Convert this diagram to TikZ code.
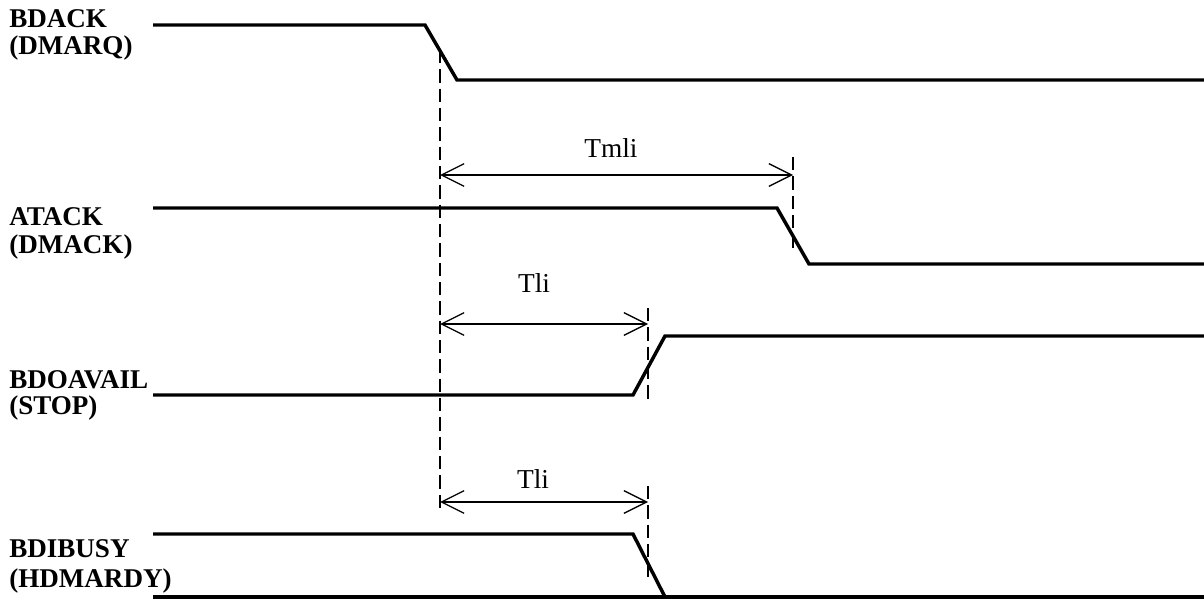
\documentclass[tikz,border=0pt]{standalone}
\usepackage{fontspec}
\setmainfont{Liberation Serif}
\usetikzlibrary{arrows.meta}
\begin{document}
\begin{tikzpicture}[x=0.75pt,y=-0.75pt,
  sig/.style={line width=2.6pt,line join=miter},
  guide/.style={line width=1pt,dash pattern=on 10pt off 4.5pt},
  dim/.style={line width=1pt,{Straight Barb[length=17pt,width=17pt,line width=1pt]}-{Straight Barb[length=17pt,width=17pt,line width=1pt]}},
  lab/.style={anchor=base west,inner sep=0pt,font=\fontsize{20.3}{24}\selectfont\bfseries},
  tlab/.style={anchor=base,inner sep=0pt,font=\fontsize{20.5}{24}\selectfont}]
\useasboundingbox (0,0) rectangle (1204,599);
% labels
\node[lab] (n1a) at (9,28) {BDACK};
\node[lab] (n1b) at (9,55) {(DMARQ)};
\node[lab] (n2a) at (9,226) {ATACK};
\node[lab] (n2b) at (9,254) {(DMACK)};
\node[lab] (n3a) at (9,388) {BDOAVAIL};
\node[lab] (n3b) at (9,414) {(STOP)};
\node[lab] (n4a) at (9,557) {BDIBUSY};
\node[lab] (n4b) at (9,587) {(HDMARDY)};
% signal points
\coordinate (a0) at (153,25); \coordinate (a1) at (425,25);
\coordinate (a2) at (457,80); \coordinate (a3) at (1204,80);
\coordinate (b0) at (153,208); \coordinate (b1) at (777,208);
\coordinate (b2) at (809,264); \coordinate (b3) at (1204,264);
\coordinate (c0) at (153,395); \coordinate (c1) at (633,395);
\coordinate (c2) at (665,336); \coordinate (c3) at (1204,336);
\coordinate (d0) at (153,534); \coordinate (d1) at (633,534);
\coordinate (d2) at (665,597); \coordinate (d3) at (1204,597);
\coordinate (e0) at (153,597);
\draw[sig] (a0) -- (a1) -- (a2) -- (a3);
\draw[sig] (b0) -- (b1) -- (b2) -- (b3);
\draw[sig] (c0) -- (c1) -- (c2) -- (c3);
\draw[sig] (d0) -- (d1) -- (d2);
\draw[sig] (e0) -- (d3);
% guides
\coordinate (g0t) at (440,50); \coordinate (g0b) at (440,512);
\coordinate (g1t) at (793,157); \coordinate (g1b) at (793,253);
\coordinate (g2t) at (648,308); \coordinate (g2b) at (648,403);
\coordinate (g3t) at (648,486); \coordinate (g3b) at (648,581);
\draw[guide] (g0t) -- (g0b);
\draw[guide] (g1t) -- (g1b);
\draw[guide] (g2t) -- (g2b);
\draw[guide] (g3t) -- (g3b);
% dimension arrows
\coordinate (m0) at (440,175); \coordinate (m1) at (793,175);
\coordinate (t0) at (440,324); \coordinate (t1) at (648,324);
\coordinate (u0) at (440,502); \coordinate (u1) at (648,502);
\draw[dim] (m0) -- (m1);
\draw[dim] (t0) -- (t1);
\draw[dim] (u0) -- (u1);
\node[tlab] (tm) at (611,158) {Tmli};
\node[tlab] (tl1) at (534,292) {Tli};
\node[tlab] (tl2) at (533,488) {Tli};
\end{tikzpicture}
\end{document}
